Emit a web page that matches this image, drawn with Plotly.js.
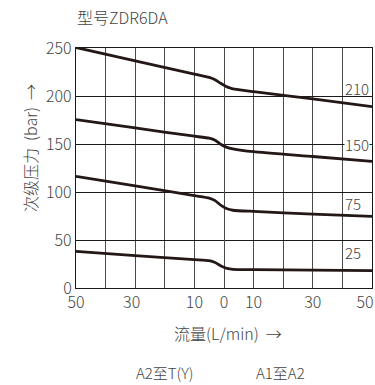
<!DOCTYPE html>
<html>
<head>
<meta charset="utf-8">
<script src="https://cdn.plot.ly/plotly-3.0.1.min.js"></script>
<style>html,body{margin:0;padding:0;background:#fff;}#chart{width:375px;height:385px;}</style>
</head>
<body>
<div id="chart"></div>
<script>
// Flow (L/min): negative = A2 to T(Y), positive = A1 to A2
const flow = [-50, -30, -10, -5, -3, -1, 1, 3, 10, 30, 50];
const p210 = [250.5, 236.7, 222.9, 219.4, 217, 213, 209.5, 207.5, 204.5, 197, 189];
const p150 = [175.3, 166.7, 158.1, 156, 154, 149.5, 146.5, 145, 142, 137, 131.9];
const p75  = [116.3, 106.3, 96.2, 93.7, 91, 86, 82.5, 81, 79.8, 77, 74.6];
const p25  = [38.1, 33.8, 29.5, 28.4, 26.5, 23, 20.5, 19.5, 19.2, 18.6, 18];
const seriesNames = ['210', '150', '75', '25'];
const seriesVals = [p210, p150, p75, p25];
const xTickVals = [-50, -40, -30, -20, -10, 0, 10, 20, 30, 40, 50];
const xTickText = ['50', '', '30\u00a0\u00a0', '', '10', '0', '10', '', '30', '', '50\u00a0\u00a0\u00a0\u00a0'];
const yTickVals = [0, 50, 100, 150, 200, 250];
const titleText = '型号ZDR6DA';
const xTitle = '流量(L/min) &#160;→';
const yTitle = '次级压力 &#160;(bar) &#160;→';
const leftLabel = 'A2至T(Y)';
const rightLabel = 'A1至A2';

const font = '"Noto Sans CJK SC", "Noto Sans", sans-serif';
const txt = '#444444';
const lineCol = '#231815';
const mkFont = (s) => ({family: font, size: s, color: txt, weight: 300});

const traces = seriesVals.map((v, i) => ({
  x: flow, y: v, type: 'scatter', mode: 'lines', name: seriesNames[i],
  line: {color: lineCol, width: 2.8, shape: 'spline', smoothing: 0.5},
  hoverinfo: 'skip'
}));

const W = 375, H = 385, L = 76, R = 3, T = 48, B = 97;
const px = (x) => (x - L) / (W - L - R);
const py = (y) => (H - B - y) / (H - T - B);

const labelY = [207.3, 149.3, 88.5, 36.5];
const annotations = seriesNames.map((n, i) => ({
  text: n, x: 40.6, y: labelY[i], xref: 'x', yref: 'y', xanchor: 'left', yanchor: 'middle',
  showarrow: false, font: mkFont(15),
  bgcolor: i === 1 ? '#ffffff' : 'rgba(0,0,0,0)', borderpad: 0
}));
const free = [
  {text: titleText, x: 75, y: 17, xanchor: 'left', size: 16},
  {text: xTitle, x: 228, y: 333, xanchor: 'center', size: 16},
  {text: yTitle, x: 30, y: 148, xanchor: 'center', size: 16, angle: -90},
  {text: leftLabel, x: 165, y: 372, xanchor: 'center', size: 15},
  {text: rightLabel, x: 280, y: 372, xanchor: 'center', size: 15}
];
free.forEach(f => annotations.push({
  text: f.text, xref: 'paper', yref: 'paper', x: px(f.x), y: py(f.y),
  xanchor: f.xanchor, yanchor: 'middle', showarrow: false, textangle: f.angle || 0,
  font: mkFont(f.size)
}));

const layout = {
  width: W, height: H,
  margin: {l: L, r: R, t: T, b: B},
  paper_bgcolor: '#fff', plot_bgcolor: '#fff',
  showlegend: false,
  xaxis: {
    range: [-50, 50], tickmode: 'array', tickvals: xTickVals, ticktext: xTickText,
    showgrid: true, gridcolor: '#4a4a4a',
    showline: true, linecolor: '#1a1a1a', linewidth: 1.2, mirror: true,
    zeroline: true, zerolinecolor: '#4a4a4a', zerolinewidth: 1, ticks: '',
    ticklabeloverflow: 'allow',
    tickfont: mkFont(16)
  },
  yaxis: {
    range: [0, 250], tickmode: 'array', tickvals: yTickVals,
    showgrid: true, gridcolor: '#1a1a1a',
    showline: true, linecolor: '#1a1a1a', linewidth: 1.2, mirror: true,
    zeroline: false, ticks: '',
    tickfont: mkFont(16)
  },
  annotations: annotations
};

Plotly.newPlot('chart', traces, layout, {displayModeBar: false});
</script>
</body>
</html>
